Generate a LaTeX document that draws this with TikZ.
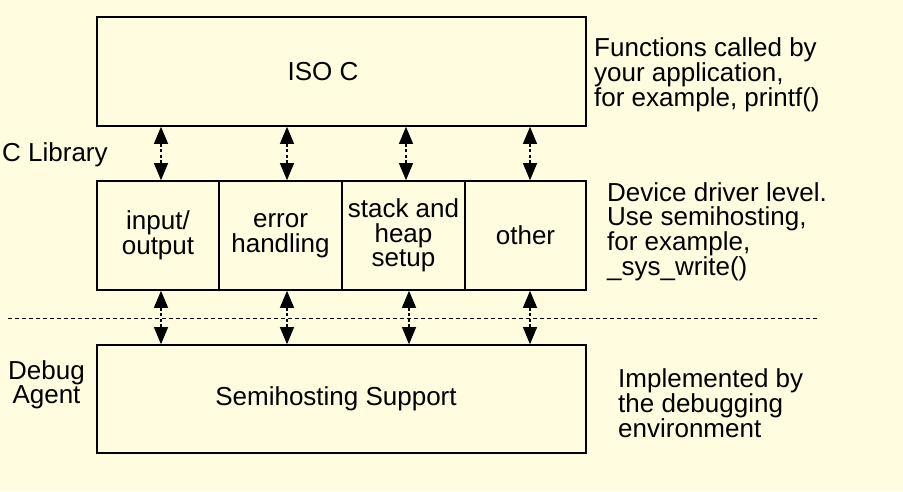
\documentclass[tikz,border=0pt]{standalone}
\usepackage{fontspec}
\setmainfont{Liberation Sans}
\usetikzlibrary{arrows.meta}
\definecolor{bg}{RGB}{255,252,224}
\tikzset{
  box/.style={draw=black, line width=1.6pt, inner sep=0pt, align=center,
    font=\fontsize{26}{24.5}\selectfont},
  txt/.style={inner sep=0pt, align=center, font=\fontsize{26}{24.5}\selectfont},
  lbl/.style={inner sep=0pt, align=left, anchor=west,
    font=\fontsize{26}{24}\selectfont},
  arr/.style={line width=1.1pt, dash pattern=on 3pt off 2.5pt,
    {Triangle[width=14pt,length=17pt]}-{Triangle[width=14pt,length=17pt]}},
  sep/.style={line width=1pt, dash pattern=on 4pt off 3pt}
}
\begin{document}
\begin{tikzpicture}[x=1pt,y=-1pt]
\fill[bg] (0,0) rectangle (903,491);
\useasboundingbox (0,0) rectangle (903,491);
% boxes
\node[box, minimum width=489pt, minimum height=109pt] (iso) at (341.5,71.5) {};
\node[txt] (isotxt) at (323,72) {ISO C};
\node[box, minimum width=122pt, minimum height=109pt] (b1) at (158,235.5) {input/\\output};
\node[box, minimum width=123pt, minimum height=109pt] (b2) at (280.5,235.5) {error\\handling};
\node[box, minimum width=123pt, minimum height=109pt] (b3) at (403.5,235.5) {stack and\\heap\\setup};
\node[box, minimum width=121pt, minimum height=109pt] (b4) at (525.5,235.5) {other};
\node[box, minimum width=489pt, minimum height=108pt] (semi) at (341.5,399) {};
\node[txt] (semitxt) at (336,399) {Semihosting Support};
% separator
\coordinate (sl) at (8,318);
\coordinate (sr) at (818,318);
\draw[sep] (sl) -- (sr);
% arrow x positions
\coordinate (t1) at (161,0);
\coordinate (t2) at (287,0);
\coordinate (t3) at (406,0);
\coordinate (t4) at (530,0);
\coordinate (u1) at (161,0);
\coordinate (u2) at (287,0);
\coordinate (u3) at (409,0);
\coordinate (u4) at (530,0);
\draw[arr] (iso.south -| t1) -- (b1.north -| t1);
\draw[arr] (iso.south -| t2) -- (b2.north -| t2);
\draw[arr] (iso.south -| t3) -- (b3.north -| t3);
\draw[arr] (iso.south -| t4) -- (b4.north -| t4);
\draw[arr] (b1.south -| u1) -- (semi.north -| u1);
\draw[arr] (b2.south -| u2) -- (semi.north -| u2);
\draw[arr] (b3.south -| u3) -- (semi.north -| u3);
\draw[arr] (b4.south -| u4) -- (semi.north -| u4);
% side labels
\node[lbl] (clib) at (2,155) {C Library};
\node[lbl, align=center] (dbg) at (8,385) {Debug\\Agent};
\node[lbl] (fn) at (594,75) {Functions called by\\your application,\\for example, printf()};
\node[lbl] (dev) at (607,232) {Device driver level.\\Use semihosting,\\for example,\\\_sys\_write()};
\node[lbl] (impl) at (618,403) {Implemented by\\the debugging\\environment};
\end{tikzpicture}
\end{document}
